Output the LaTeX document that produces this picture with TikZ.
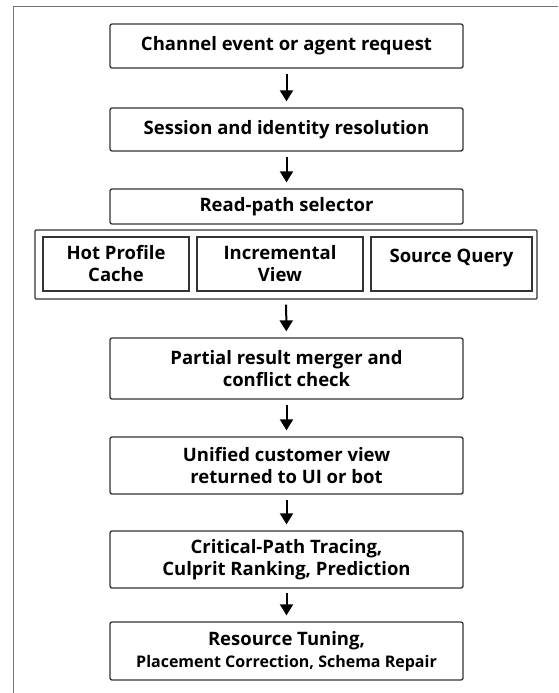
\documentclass[tikz,border=0pt]{standalone}
\usepackage{fontspec}
\setmainfont{Open Sans}
\usetikzlibrary{arrows.meta}

\begin{document}
\begin{tikzpicture}[x=1pt, y=-1pt, line width=1.3pt,
	arrows={-Triangle[width=13pt,length=11pt]},
	stage/.style={draw=black!80, rounded corners=2pt, minimum width=353pt,
		align=center, inner sep=0pt, font=\fontsize{18.5}{22}\selectfont\bfseries},
	source/.style={draw=black!80, minimum height=54pt, align=center, inner sep=0pt,
		font=\fontsize{18.5}{22}\selectfont\bfseries},
	flow/.style={line width=2pt, shorten <=5pt, shorten >=6pt}]
	\useasboundingbox (0,0) rectangle (558,693);
	\fill[white] (0,0) rectangle (558,693);
	\draw[-, black!55, line width=1pt] (13,693) -- (13,7) -- (558,7);

	\node[stage, minimum height=44pt] (chan) at (286.5,46) {Channel event or agent request};
	\node[stage, minimum height=43pt] (sess) at (286.5,129.5) {Session and identity resolution};
	\node[stage, minimum height=35pt] (sel) at (286.5,206.5) {Read-path selector};

	\node[draw=black!80, rounded corners=1pt, minimum width=502pt, minimum height=69pt] (reads) at (286,264.5) {};
	\node[source, minimum width=146pt] (hot) at (116,264) {Hot Profile\\Cache};
	\node[source, minimum width=166pt] (incr) at (280,264) {Incremental\\View};
	\node[source, minimum width=161pt] (query) at (451.5,264) {Source Query\vphantom{g}\\[-6pt]};

	\node[stage, minimum height=61pt] (merge) at (286.5,368.5) {Partial result merger and\\conflict check};
	\node[stage, minimum height=57pt] (view) at (286.5,465.5) {Unified customer view\\returned to UI or bot};
	\node[stage, minimum height=57pt] (trace) at (286.5,559.5) {Critical-Path Tracing,\\Culprit Ranking, Prediction};
	\node[stage, minimum height=58pt] (tune) at (286.5,651) {Resource Tuning,\\{\fontsize{16}{21}\selectfont Placement Correction, Schema Repair}};

	\draw[flow] (chan) -- (sess);
	\draw[flow] (sess) -- (sel);
	\draw[flow] (reads) -- (merge);
	\draw[flow] (merge) -- (view);
	\draw[flow] (view) -- (trace);
	\draw[flow, shorten <=4pt] (trace) -- (tune);
\end{tikzpicture}
\end{document}
